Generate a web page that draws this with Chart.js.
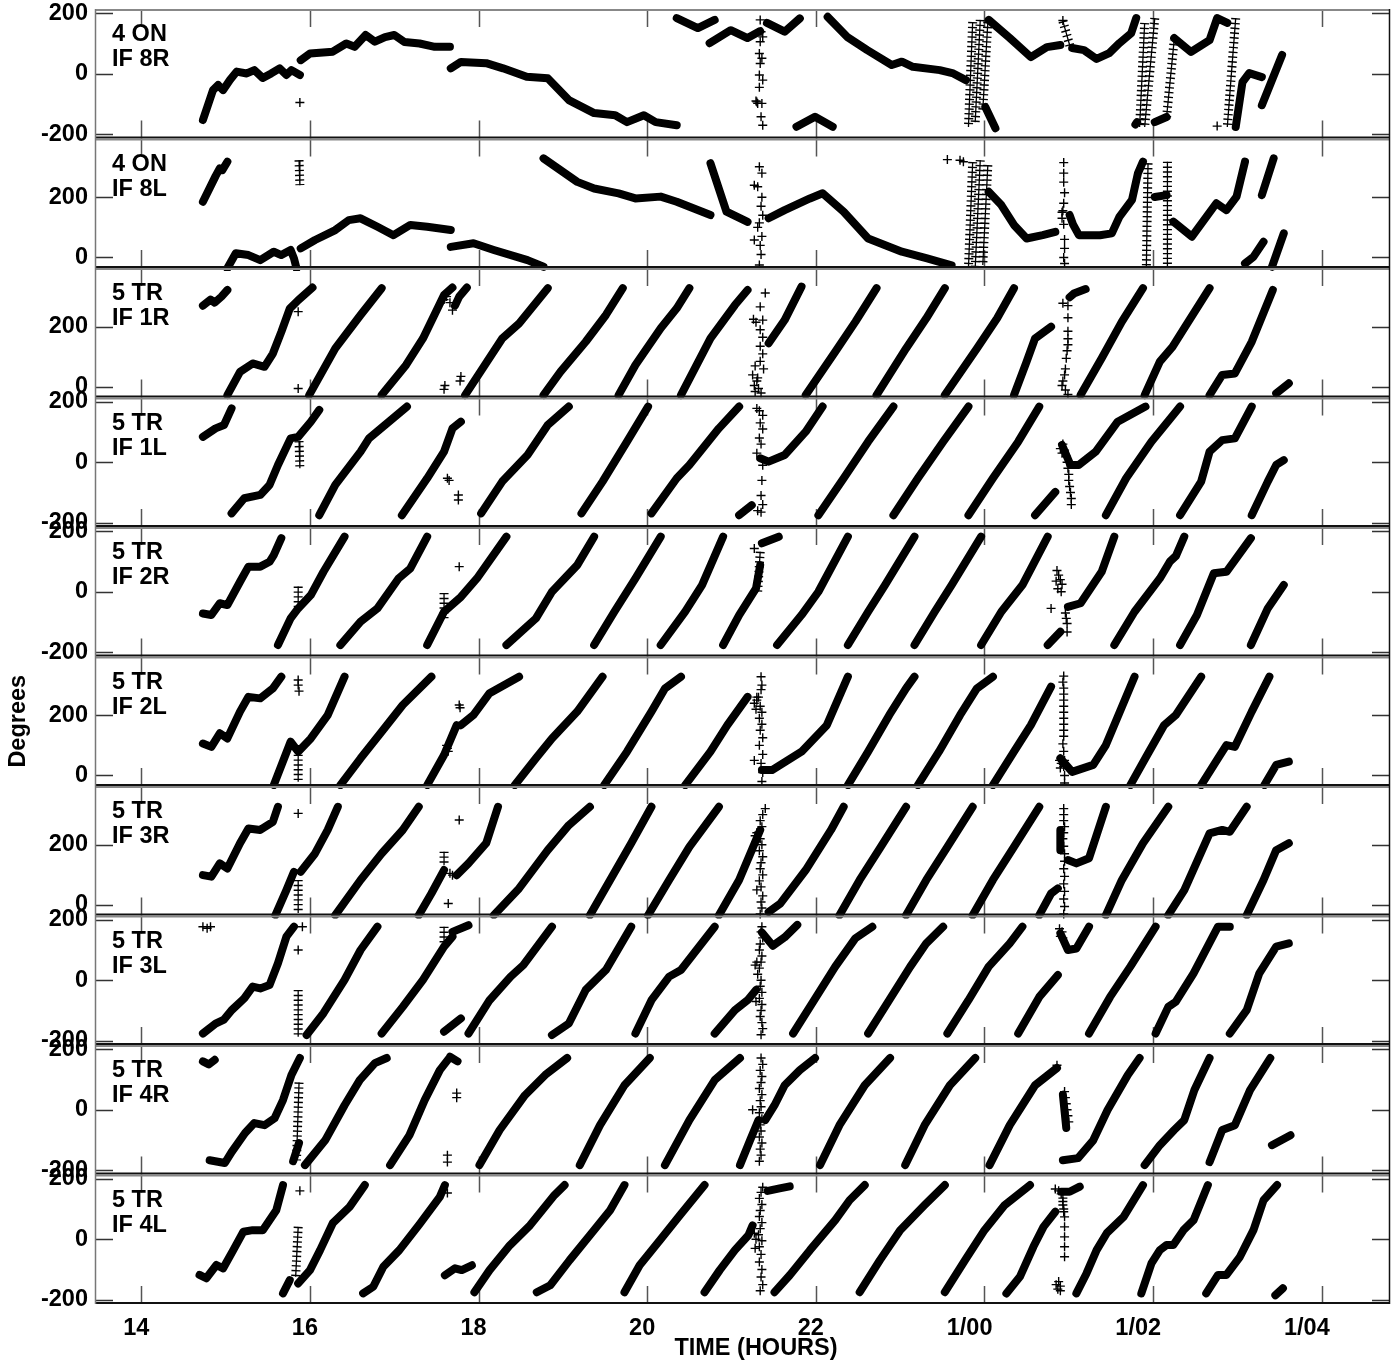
<!DOCTYPE html>
<html lang="en">
<head>
<meta charset="UTF-8" />
<title>Phase vs time</title>
<script src="https://cdn.jsdelivr.net/npm/chart.js"></script>
<style>
  html, body { margin: 0; padding: 0; background: #fff; }
  #phaseChart { display: block; }
</style>
</head>
<body>
<canvas id="phaseChart" width="1399" height="1361"></canvas>
<script>
// ---- values: [time in hours, phase in degrees] ----
// thick traces (many overlapping + marks), each inner list is one unbroken run
const lines8R = [
  [[14.73,-153],[14.85,-54],[14.91,-37],[14.97,-54],[15.05,-21],[15.13,7],[15.25,1],[15.34,12],[15.44,-14],[15.54,1],[15.64,18],[15.72,-4],[15.78,12],[15.88,-4]],
  [[15.89,45],[16.0,67],[16.27,73],[16.43,100],[16.53,89],[16.66,128],[16.77,106],[16.89,121],[17.0,128],[17.12,105],[17.30,100],[17.48,89],[17.66,89]],
  [[17.67,18],[17.79,39],[18.09,35],[18.29,18],[18.57,-10],[18.82,-15],[19.07,-87],[19.37,-130],[19.62,-137],[19.76,-160],[19.96,-137],[20.10,-160],[20.35,-170]],
  [[20.35,184],[20.60,151],[20.80,178]],
  [[20.74,101],[20.99,144],[21.19,118],[21.34,141]],
  [[21.42,168],[21.63,139],[21.81,183]],
  [[21.77,-175],[21.99,-142],[22.20,-175]],
  [[22.14,188],[22.37,122],[22.61,78],[22.90,29],[23.02,40],[23.15,23],[23.47,12],[23.63,1],[23.78,-21]],
  [[24.01,-110],[24.13,-180]],
  [[24.05,178],[24.30,118],[24.55,55],[24.74,88],[24.90,95]],
  [[25.04,85],[25.18,78],[25.33,49],[25.48,68],[25.60,101],[25.74,134],[25.80,184]],
  [[25.79,-168],[25.81,-160]],
  [[26.02,-160],[26.16,-143]],
  [[26.25,118],[26.45,72],[26.67,111],[26.76,184],[26.88,168]],
  [[26.98,-176],[27.06,-28],[27.14,2],[27.29,-11]],
  [[27.29,-104],[27.53,62]]
];
const lines8L = [
  [[14.73,185],[14.88,270],[14.93,296],[14.96,290],[15.02,318]],
  [[15.02,-36],[15.12,14],[15.27,8],[15.41,-9],[15.57,19],[15.66,8],[15.77,25],[15.81,-3],[15.84,-36]],
  [[15.89,30],[16.06,58],[16.30,91],[16.46,124],[16.60,130],[16.80,102],[16.99,74],[17.19,108],[17.39,102],[17.67,91]],
  [[17.67,35],[17.94,47],[18.18,25],[18.58,-9],[18.77,-31]],
  [[18.77,329],[19.17,251],[19.37,229],[19.66,213],[19.86,196],[20.16,202],[20.35,185],[20.75,141]],
  [[20.75,313],[20.94,152],[21.19,118]],
  [[21.44,130],[21.63,157],[21.93,196],[22.08,213],[22.33,152],[22.62,63],[23.02,19],[23.32,-3],[23.61,-26]],
  [[24.05,218],[24.20,174],[24.35,108],[24.50,63],[24.69,74],[24.84,85]],
  [[25.01,141],[25.05,110],[25.12,74],[25.37,74],[25.51,80],[25.60,135],[25.75,191],[25.82,279],[25.88,318]],
  [[26.02,201],[26.16,207]],
  [[26.24,119],[26.46,69],[26.75,180],[26.87,157],[26.99,202],[27.09,318]],
  [[27.09,-20],[27.19,2],[27.31,52]],
  [[27.29,207],[27.43,329]],
  [[27.41,-31],[27.55,80]]
];
const lines1R = [
  [[14.73,270],[14.82,290],[14.87,280],[14.95,300],[15.02,322]],
  [[15.02,-27],[15.17,50],[15.32,78],[15.46,67],[15.56,111],[15.66,183],[15.76,260],[15.86,288],[16.03,330]],
  [[15.99,-27],[16.30,128],[16.60,239],[16.85,328]],
  [[16.85,-27],[17.14,73],[17.34,161],[17.59,305],[17.69,330]],
  [[17.72,270],[17.77,300],[17.86,330]],
  [[17.84,-27],[18.28,161],[18.48,211],[18.82,328]],
  [[18.77,-27],[18.97,50],[19.27,150],[19.51,239],[19.71,328]],
  [[19.66,-27],[19.86,73],[20.16,195],[20.35,261],[20.50,328]],
  [[20.40,-27],[20.75,161],[21.04,272],[21.19,322]],
  [[21.44,145],[21.63,222],[21.83,333]],
  [[21.88,-27],[22.23,117],[22.47,217],[22.72,328]],
  [[22.72,-27],[23.07,128],[23.31,228],[23.53,328]],
  [[23.53,-27],[23.91,128],[24.15,228],[24.35,328]],
  [[24.35,-27],[24.50,84],[24.60,161],[24.79,200]],
  [[25.01,298],[25.06,310],[25.20,325]],
  [[25.14,-27],[25.39,95],[25.63,217],[25.88,328]],
  [[25.90,-27],[26.08,84],[26.23,133],[26.37,195],[26.67,328]],
  [[26.67,-27],[26.82,40],[26.97,45],[27.17,150],[27.42,322]],
  [[27.46,-21],[27.61,12]]
];
const lines1L = [
  [[14.73,84],[14.88,112],[14.98,123],[15.07,178]],
  [[15.07,-169],[15.22,-119],[15.41,-108],[15.52,-75],[15.62,-9],[15.77,79],[15.86,84],[16.01,134],[16.11,173]],
  [[16.11,-175],[16.30,-75],[16.60,35],[16.70,79],[17.15,184]],
  [[17.09,-175],[17.39,-53],[17.59,35],[17.69,112],[17.79,134]],
  [[18.03,-169],[18.28,-64],[18.58,24],[18.82,123],[19.07,184]],
  [[19.22,-169],[19.47,-64],[19.76,68],[20.01,184]],
  [[20.05,-169],[20.35,-53],[20.50,-9],[20.85,112],[21.09,184]],
  [[21.09,-175],[21.24,-142]],
  [[21.34,13],[21.44,2],[21.63,24],[21.88,101],[22.08,184]],
  [[22.03,-175],[22.33,-53],[22.62,68],[22.92,184]],
  [[22.92,-175],[23.21,-53],[23.51,68],[23.81,184]],
  [[23.81,-175],[24.10,-53],[24.40,68],[24.65,184]],
  [[24.60,-175],[24.84,-98]],
  [[24.92,57],[25.02,-9],[25.12,-9],[25.32,35],[25.58,134],[25.91,184]],
  [[25.44,-175],[25.68,-53],[25.98,68],[26.27,167],[26.32,184]],
  [[26.32,-175],[26.57,-64],[26.67,35],[26.82,73],[26.97,79],[27.17,184]],
  [[27.17,-175],[27.36,-64],[27.46,-9],[27.55,7]]
];
const lines2R = [
  [[14.73,-72],[14.83,-77],[14.93,-38],[15.02,-44],[15.17,33],[15.27,83],[15.41,83],[15.52,99],[15.57,121],[15.66,177]],
  [[15.62,-176],[15.77,-88],[15.86,-55],[16.01,-11],[16.16,66],[16.41,182]],
  [[16.36,-176],[16.60,-99],[16.80,-55],[17.05,44],[17.19,77],[17.39,182]],
  [[17.39,-176],[17.59,-66],[17.79,-17],[17.98,44],[18.33,182]],
  [[18.33,-176],[18.68,-88],[18.87,0],[19.17,88],[19.37,182]],
  [[19.37,-176],[19.61,-66],[19.86,44],[20.16,182]],
  [[20.16,-176],[20.45,-66],[20.65,22],[20.90,182]],
  [[20.90,-176],[21.09,-77],[21.29,11],[21.34,88]],
  [[21.36,160],[21.56,182]],
  [[21.54,-176],[21.83,-77],[22.03,0],[22.38,182]],
  [[22.38,-176],[22.62,-66],[22.82,22],[23.17,182]],
  [[23.17,-176],[23.41,-66],[23.61,22],[23.96,182]],
  [[23.96,-176],[24.20,-66],[24.45,22],[24.75,182]],
  [[24.75,-176],[24.90,-132]],
  [[24.99,-50],[25.14,-38],[25.39,66],[25.54,182]],
  [[25.54,-176],[25.78,-66],[26.08,44],[26.20,100],[26.27,118],[26.37,182]],
  [[26.32,-176],[26.52,-77],[26.72,61],[26.87,66],[27.16,177]],
  [[27.16,-176],[27.36,-55],[27.55,22]]
];
const lines2L = [
  [[14.73,106],[14.83,95],[14.93,140],[15.02,123],[15.17,212],[15.27,261],[15.41,256],[15.56,289],[15.66,328]],
  [[15.57,-32],[15.77,112],[15.86,79],[16.01,123],[16.21,200],[16.41,328]],
  [[16.36,-32],[16.60,57],[16.85,145],[17.10,234],[17.44,328]],
  [[17.39,-32],[17.59,68],[17.74,167]],
  [[17.79,167],[17.94,201],[18.13,273],[18.48,328]],
  [[18.43,-32],[18.68,57],[18.87,123],[19.17,212],[19.47,328]],
  [[19.49,-32],[19.76,79],[20.05,212],[20.21,289],[20.40,328]],
  [[20.45,-32],[20.75,79],[20.95,167],[21.19,261]],
  [[21.36,18],[21.48,18],[21.83,79],[22.13,167],[22.38,328]],
  [[22.38,-32],[22.62,79],[22.87,200],[23.07,289],[23.17,328]],
  [[23.21,-32],[23.46,79],[23.71,200],[23.91,289],[24.10,328]],
  [[24.10,-32],[24.35,79],[24.55,167],[24.79,295]],
  [[24.90,57],[25.04,12],[25.29,35],[25.44,101],[25.78,328]],
  [[25.73,-32],[25.93,68],[26.13,167],[26.27,201],[26.57,328]],
  [[26.57,-32],[26.77,57],[26.87,101],[26.97,95],[27.17,212],[27.38,328]],
  [[27.32,-32],[27.46,35],[27.61,46]]
];
const lines3R = [
  [[14.73,99],[14.83,94],[14.93,138],[15.02,121],[15.17,205],[15.27,254],[15.41,249],[15.56,276],[15.62,326]],
  [[15.59,-34],[15.72,49],[15.81,110]],
  [[15.89,110],[16.06,171],[16.21,249],[16.33,326]],
  [[16.30,-34],[16.60,83],[16.85,171],[17.10,249],[17.29,326]],
  [[17.29,-34],[17.44,38],[17.59,116]],
  [[17.74,99],[17.88,138],[18.09,205],[18.23,326]],
  [[18.18,-34],[18.48,55],[18.82,182],[19.07,265],[19.32,326]],
  [[19.32,-34],[19.56,83],[19.81,205],[20.05,326]],
  [[20.01,-34],[20.26,83],[20.50,193],[20.85,326]],
  [[20.85,-34],[21.09,83],[21.24,182],[21.34,249]],
  [[21.44,-23],[21.58,5],[21.88,116],[22.18,249],[22.33,326]],
  [[22.28,-34],[22.52,83],[22.77,193],[23.07,326]],
  [[23.07,-34],[23.31,83],[23.56,193],[23.86,326]],
  [[23.86,-34],[24.10,83],[24.35,193],[24.65,326]],
  [[24.65,-34],[24.79,38],[24.87,55]],
  [[24.90,249],[24.90,182]],
  [[24.99,149],[25.09,138],[25.24,155],[25.44,326]],
  [[25.44,-34],[25.63,83],[25.88,205],[26.18,326]],
  [[26.18,-34],[26.37,49],[26.67,238],[26.82,249],[26.91,243],[27.11,326]],
  [[27.11,-34],[27.31,83],[27.46,182],[27.61,205]]
];
const lines3L = [
  [[14.73,-176],[14.88,-143],[14.98,-130],[15.07,-99],[15.22,-60],[15.32,-21],[15.41,-27],[15.52,-16],[15.62,56],[15.72,144],[15.81,177]],
  [[15.96,-181],[16.16,-109],[16.41,1],[16.60,100],[16.80,177]],
  [[16.85,-176],[17.10,-88],[17.34,1],[17.59,111],[17.69,144]],
  [[17.69,160],[17.88,182]],
  [[17.59,-170],[17.79,-126]],
  [[17.88,-176],[18.13,-66],[18.38,12],[18.53,50],[18.87,177]],
  [[18.87,-181],[19.07,-143],[19.27,-32],[19.51,34],[19.81,177]],
  [[19.86,-176],[20.05,-66],[20.26,12],[20.40,34],[20.80,177]],
  [[20.80,-176],[21.04,-99],[21.19,-66],[21.29,-32]],
  [[21.36,158],[21.49,114],[21.63,142],[21.78,183]],
  [[21.73,-176],[21.98,-66],[22.23,45],[22.47,139],[22.67,177]],
  [[22.62,-176],[22.87,-66],[23.12,45],[23.31,122],[23.51,177]],
  [[23.56,-176],[23.81,-66],[24.05,45],[24.30,122],[24.45,177]],
  [[24.40,-176],[24.65,-55],[24.87,17]],
  [[24.90,155],[24.99,100],[25.09,105],[25.24,177]],
  [[25.24,-176],[25.49,-55],[25.73,45],[26.03,177]],
  [[26.03,-176],[26.18,-88],[26.27,-71],[26.48,23],[26.77,177],[26.91,177]],
  [[26.91,-176],[27.11,-99],[27.26,23],[27.46,111],[27.61,122]]
];
const lines4R = [
  [[14.73,160],[14.80,150],[14.87,165]],
  [[14.81,-167],[14.99,-176],[15.07,-140],[15.23,-77],[15.34,-44],[15.46,-51],[15.58,-28],[15.68,32],[15.78,115],[15.88,171]],
  [[15.80,-170],[15.87,-110]],
  [[15.94,-183],[16.18,-101],[16.41,15],[16.59,98],[16.77,154],[16.91,171]],
  [[16.95,-183],[17.18,-84],[17.36,32],[17.54,131],[17.66,174]],
  [[17.66,175],[17.75,160]],
  [[18.01,-183],[18.25,-67],[18.55,48],[18.79,115],[19.05,171]],
  [[19.20,-183],[19.44,-51],[19.73,81],[20.03,171]],
  [[20.21,-183],[20.50,-34],[20.80,98],[21.10,171]],
  [[21.10,-183],[21.22,-101],[21.32,-34]],
  [[21.40,-34],[21.51,15],[21.63,81],[21.81,131],[21.99,171]],
  [[22.05,-183],[22.28,-51],[22.58,81],[22.88,171]],
  [[23.06,-183],[23.29,-51],[23.59,81],[23.89,171]],
  [[24.06,-183],[24.30,-51],[24.60,81],[24.86,138]],
  [[24.93,50],[24.97,-60]],
  [[24.93,-167],[25.11,-160],[25.29,-101],[25.46,-1],[25.70,115],[25.84,171]],
  [[25.90,-183],[26.08,-117],[26.25,-67],[26.37,-34],[26.49,65],[26.67,171]],
  [[26.67,-173],[26.82,-67],[26.97,-51],[27.15,65],[27.39,171]],
  [[27.41,-117],[27.63,-84]]
];
const lines4L = [
  [[14.69,-118],[14.77,-129],[14.89,-85],[14.97,-96],[15.09,-36],[15.21,25],[15.32,30],[15.44,30],[15.52,63],[15.60,96],[15.68,179]],
  [[15.68,-179],[15.76,-135]],
  [[15.86,-146],[16.0,-102],[16.12,-36],[16.27,53],[16.47,107],[16.65,179]],
  [[16.63,-179],[16.75,-157],[16.87,-91],[17.06,-36],[17.30,50],[17.54,140],[17.60,179]],
  [[17.60,-119],[17.72,-96],[17.80,-102],[17.92,-86]],
  [[17.95,-175],[18.13,-102],[18.37,-20],[18.61,46],[18.90,146],[19.02,179]],
  [[18.69,-175],[18.85,-152],[19.08,-69],[19.32,13],[19.56,96],[19.73,179]],
  [[19.73,-175],[19.91,-86],[20.15,-3],[20.39,80],[20.68,179]],
  [[20.68,-175],[20.86,-102],[21.04,-36],[21.20,13],[21.25,46]],
  [[21.43,160],[21.57,168],[21.69,175]],
  [[21.51,-175],[21.69,-119],[21.93,-36],[22.23,63],[22.40,129],[22.58,179]],
  [[22.52,-175],[22.76,-69],[23.0,30],[23.29,113],[23.53,179]],
  [[23.53,-175],[23.77,-69],[24.0,30],[24.24,113],[24.54,179]],
  [[24.26,-179],[24.42,-124],[24.58,-25],[24.70,41],[24.84,91]],
  [[24.91,157],[25.01,157],[25.13,174]],
  [[25.09,-179],[25.21,-113],[25.33,-36],[25.45,20],[25.65,74],[25.88,179]],
  [[25.86,-179],[25.98,-80],[26.08,-36],[26.16,-19],[26.24,-19],[26.36,30],[26.48,63],[26.65,179]],
  [[26.63,-179],[26.77,-118],[26.87,-118],[27.03,-58],[27.19,30],[27.31,129],[27.47,179]],
  [[27.45,-185],[27.54,-162]]
];

// dense columns of + marks (start and end of each column)
const ladders8R = [
  [[23.86,171],[23.81,-176]], [[23.95,178],[23.89,-160]], [[24.04,171],[23.98,-120]],
  [[24.93,174],[25.02,85]], [[25.90,168],[25.84,-176]], [[26.02,184],[25.90,-176]],
  [[26.16,-143],[26.25,111]], [[26.98,184],[26.88,-176]]
];
const ladders8L = [
  [[15.87,323],[15.88,240]], [[23.86,317],[23.81,-35]], [[23.95,323],[23.89,-35]],
  [[24.04,307],[23.98,-25]], [[25.94,313],[25.92,-32]], [[26.17,318],[26.17,-32]]
];
const ladders1R = [];
const ladders1L = [[[15.87,70],[15.88,-20]]];
const ladders2R = [[[15.86,17],[15.86,-55]], [[17.59,-4],[17.59,-88]], [[21.34,132],[21.31,0]]];
const ladders2L = [[[15.86,101],[15.86,-21]]];
const ladders3R = [[[15.86,83],[15.86,-27]], [[17.59,177],[17.59,132]]];
const ladders3L = [[[15.86,-32],[15.86,-187]], [[17.59,177],[17.59,122]]];
const ladders4R = [[[15.87,90],[15.84,-167]]];
const ladders4L = [[[15.86,41],[15.83,-124]]];

// isolated + marks
const crosses8R = [[15.88,-95],[21.34,178],[21.35,139],[21.37,122],[21.34,106],[21.33,67],[21.36,51],[21.34,34],[21.33,-4],[21.37,-21],[21.33,-45],[21.30,-93],[21.31,-98],[21.29,-90],[21.36,-98],[21.35,-142],[21.37,-170],[26.76,-173],[24.93,176]];
const crosses8L = [[21.33,301],[21.36,280],[21.27,240],[21.31,235],[21.36,200],[21.35,170],[21.37,140],[21.33,115],[21.31,100],[21.36,70],[21.27,58],[21.34,40],[21.35,10],[21.33,-25],[23.56,325],[23.71,323],[23.75,318],[24.94,315],[24.94,280],[24.94,250],[24.95,215],[24.94,180],[24.92,150],[24.93,155],[24.92,130],[24.94,110],[24.95,60],[24.95,30],[24.94,0],[24.95,-20]];
const crosses1R = [[15.86,-5],[15.86,250],[17.59,290],[17.62,300],[17.66,280],[17.69,255],[17.59,-8],[17.60,5],[17.78,20],[17.79,35],[21.40,312],[21.34,266],[21.37,222],[21.34,190],[21.37,165],[21.34,135],[21.37,110],[21.34,85],[21.38,60],[21.30,20],[21.27,5],[21.32,-5],[21.35,-20],[21.28,-15],[21.31,30],[21.26,225],[21.29,215],[21.28,70],[21.25,40],[24.93,278],[24.99,270],[24.99,230],[24.99,185],[24.99,160],[24.99,140],[24.98,120],[24.97,95],[24.96,60],[24.95,40],[24.93,20],[24.92,5],[24.96,-10],[24.99,-25]];
const crosses1L = [[17.63,-53],[17.65,-60],[17.76,-108],[17.76,-125],[21.30,178],[21.33,170],[21.37,155],[21.34,130],[21.37,110],[21.33,80],[21.35,60],[21.30,30],[21.37,-10],[21.36,-60],[21.35,-110],[21.37,-140],[21.35,-165],[21.31,-160],[24.93,60],[24.95,40],[24.97,20],[24.98,0],[24.99,-20],[25.00,-40],[25.00,-60],[25.01,-80],[25.02,-100],[25.03,-120],[25.03,-140],[24.90,45],[24.92,30]];
const crosses2R = [[17.77,83],[21.27,143],[24.86,70],[24.88,55],[24.90,40],[24.92,25],[24.87,10],[24.91,0],[24.79,-55],[24.96,-70],[24.97,-88],[24.98,-105],[24.98,-133],[24.85,35]];
const crosses2L = [[15.86,317],[15.86,300],[15.87,280],[17.77,234],[17.78,225],[17.62,100],[17.63,90],[17.64,80],[21.35,328],[21.36,300],[21.35,285],[21.32,260],[21.30,250],[21.34,230],[21.36,210],[21.33,190],[21.36,170],[21.34,150],[21.37,125],[21.33,100],[21.37,70],[21.35,40],[21.37,10],[21.36,-20],[21.27,50],[21.30,260],[21.27,240],[21.29,220],[24.94,330],[24.93,310],[24.94,290],[24.94,270],[24.94,250],[24.94,230],[24.94,210],[24.94,190],[24.94,170],[24.94,150],[24.94,130],[24.93,105],[24.94,80],[24.95,50],[24.94,30],[24.95,0],[24.95,-25],[24.89,50],[24.91,40],[24.90,25]];
const crosses3R = [[15.86,304],[17.64,5],[17.77,282],[17.69,99],[17.66,105],[21.40,320],[21.37,300],[21.34,280],[21.36,260],[21.30,240],[21.34,220],[21.36,200],[21.33,180],[21.37,160],[21.35,140],[21.34,120],[21.37,100],[21.33,80],[21.35,60],[21.30,50],[21.37,30],[21.35,10],[21.36,-10],[21.34,-30],[21.28,230],[21.29,210],[24.94,320],[24.94,300],[24.94,280],[24.95,260],[24.94,240],[24.93,220],[24.94,195],[24.95,170],[24.95,145],[24.94,120],[24.95,95],[24.94,70],[24.95,45],[24.94,20],[24.95,-5],[24.94,-30]];
const crosses3L = [[14.73,177],[14.78,172],[14.82,177],[15.86,100],[15.91,177],[21.36,177],[21.35,160],[21.37,140],[21.34,120],[21.33,100],[21.36,80],[21.35,60],[21.33,40],[21.31,20],[21.35,0],[21.34,-20],[21.36,-40],[21.33,-60],[21.36,-80],[21.35,-100],[21.34,-120],[21.36,-140],[21.37,-160],[21.35,-180],[21.28,50],[21.30,60],[21.29,-70],[24.89,170],[24.92,160],[24.90,145],[24.93,140]];
const crosses4R = [[17.74,55],[17.74,40],[17.63,-150],[17.63,-173],[21.35,171],[21.37,150],[21.34,130],[21.36,110],[21.35,90],[21.33,70],[21.36,50],[21.34,30],[21.35,10],[21.33,-10],[21.36,-30],[21.34,-50],[21.35,-70],[21.33,-90],[21.36,-110],[21.34,-130],[21.35,-150],[21.33,-170],[21.25,0],[24.86,147],[24.95,60],[24.96,40],[24.97,20],[24.98,0],[24.99,-20],[25.00,-40]];
const crosses4L = [[15.88,160],[17.63,153],[21.37,172],[21.35,155],[21.33,135],[21.36,115],[21.34,95],[21.33,75],[21.36,55],[21.34,35],[21.32,15],[21.36,-5],[21.33,-25],[21.35,-50],[21.33,-75],[21.36,-100],[21.35,-125],[21.37,-150],[21.34,-170],[21.27,20],[21.29,0],[21.28,-30],[24.84,166],[24.88,160],[24.91,150],[24.93,136],[24.93,125],[24.93,113],[24.94,100],[24.94,91],[24.95,74],[24.95,41],[24.95,8],[24.95,-25],[24.95,-58],[24.85,-150],[24.88,-140],[24.90,-170],[24.87,-165],[24.90,-155]];

// panel labels, top to bottom
const antennas = ['4 ON', '4 ON', '5 TR', '5 TR', '5 TR', '5 TR', '5 TR', '5 TR', '5 TR', '5 TR'];
const ifNames = ['IF 8R', 'IF 8L', 'IF 1R', 'IF 1L', 'IF 2R', 'IF 2L', 'IF 3R', 'IF 3L', 'IF 4R', 'IF 4L'];
const yMins = [-214, -35, -35, -214, -214, -35, -35, -214, -214, -214];
const yMaxs = [214, 395, 395, 214, 214, 395, 395, 214, 214, 214];
const wideTicks = [-200, 0, 200];
const phaseTicks = [0, 100, 200, 300];
const timeTicks = [14, 16, 18, 20, 22, 24, 26, 28];

const panelLines = [lines8R, lines8L, lines1R, lines1L, lines2R, lines2L, lines3R, lines3L, lines4R, lines4L];
const panelLadders = [ladders8R, ladders8L, ladders1R, ladders1L, ladders2R, ladders2L, ladders3R, ladders3L, ladders4R, ladders4L];
const panelCrosses = [crosses8R, crosses8L, crosses1R, crosses1L, crosses2R, crosses2L, crosses3R, crosses3L, crosses4R, crosses4L];

// ---- build chart ----
const FONT = '"Liberation Sans", Arial, Helvetica, sans-serif';
const FONT_SIZE = 23.5;
Chart.defaults.font.family = FONT;
Chart.defaults.font.weight = 'bold';
Chart.defaults.font.size = FONT_SIZE;
Chart.defaults.color = '#000';

// runs -> one point list, a null breaks the line between runs
function toPoints(runs) {
  const out = [];
  runs.forEach(run => {
    run.forEach(p => out.push({ x: p[0], y: p[1] }));
    out.push({ x: run[run.length - 1][0], y: null });
  });
  return out;
}

const panelIds = antennas.map((a, i) => 'p' + i);
const datasets = [];
panelIds.forEach((id, i) => {
  datasets.push({
    type: 'line', yAxisID: id, data: toPoints(panelLines[i]),
    borderColor: '#000', borderWidth: 8, borderCapStyle: 'round', borderJoinStyle: 'round',
    pointRadius: 0, spanGaps: false, tension: 0, clip: 3
  });
  if (panelLadders[i].length) {
    datasets.push({
      type: 'line', yAxisID: id, data: toPoints(panelLadders[i]),
      borderColor: '#000', borderWidth: 1.3, pointRadius: 0, spanGaps: false, clip: 3
    });
    datasets.push({
      type: 'line', yAxisID: id, data: toPoints(panelLadders[i]),
      borderColor: '#000', borderWidth: 9, borderDash: [1.4, 3.4], borderCapStyle: 'butt',
      pointRadius: 0, spanGaps: false, clip: 3
    });
  }
  datasets.push({
    type: 'scatter', yAxisID: id, data: panelCrosses[i].map(p => ({ x: p[0], y: p[1] })),
    pointStyle: 'cross', pointRadius: 4.5, pointBorderWidth: 1.4,
    pointBorderColor: '#000', pointBackgroundColor: '#000', clip: 5
  });
});

const scales = {
  x: {
    type: 'linear', position: 'bottom', min: 13.45, max: 28.81,
    afterBuildTicks: axis => { axis.ticks = timeTicks.map(v => ({ value: v })); },
    afterFit: axis => { axis.height = 57; axis.paddingLeft = 0; axis.paddingRight = 0; },
    ticks: {
      padding: 10, maxRotation: 0, align: 'end', labelOffset: 8,
      callback: v => v < 24 ? String(v) : '1/' + String(v - 24).padStart(2, '0')
    },
    grid: { display: false, drawTicks: false },
    border: { display: false },
    title: { display: false }
  }
};
// stacked left axes: the last one listed ends up on top, so list bottom panel first
for (let i = panelIds.length - 1; i >= 0; i--) {
  const wide = yMins[i] < -100;
  scales[panelIds[i]] = {
    type: 'linear', position: 'left', stack: 'panels', stackWeight: 1,
    min: yMins[i], max: yMaxs[i],
    afterBuildTicks: axis => { axis.ticks = (wide ? wideTicks : phaseTicks).map(v => ({ value: v })); },
    afterFit: axis => { axis.width = 95; axis.paddingTop = 0; axis.paddingBottom = 0; },
    ticks: { padding: 7 },
    grid: { display: false, drawTicks: false },
    border: { display: false },
    title: { display: i === 5, text: 'Degrees', padding: { top: 4, bottom: 0 } }
  };
}

// frame, inner tick marks, panel labels and the time axis title
const framePlugin = {
  id: 'panelFrame',
  beforeDatasetsDraw(chart) {
    const ctx = chart.ctx;
    const xs = chart.scales.x;
    const { left, right } = chart.chartArea;
    ctx.save();
    ctx.lineWidth = 1.5;
    panelIds.forEach((id, i) => {
      const ys = chart.scales[id];
      ctx.strokeStyle = '#333';
      ys.ticks.forEach(t => {
        const y = Math.round(ys.getPixelForValue(t.value)) + 0.5;
        ctx.beginPath();
        ctx.moveTo(left, y); ctx.lineTo(left + 18, y);
        ctx.moveTo(right - 18, y); ctx.lineTo(right, y);
        ctx.stroke();
      });
      ctx.strokeStyle = '#555';
      xs.ticks.forEach(t => {
        const x = Math.round(xs.getPixelForValue(t.value)) + 0.5;
        ctx.beginPath();
        ctx.moveTo(x, ys.top); ctx.lineTo(x, ys.top + 18);
        ctx.moveTo(x, ys.bottom - 18); ctx.lineTo(x, ys.bottom);
        ctx.stroke();
      });
      ctx.fillStyle = '#000';
      ctx.font = 'bold ' + FONT_SIZE + 'px ' + FONT;
      ctx.textAlign = 'left';
      ctx.textBaseline = 'alphabetic';
      ctx.fillText(antennas[i], left + 17, ys.top + 32);
      ctx.fillText(ifNames[i], left + 17, ys.top + 57);
    });
    ctx.restore();
  },
  afterDatasetsDraw(chart) {
    const ctx = chart.ctx;
    const { left, right, top, bottom } = chart.chartArea;
    ctx.save();
    panelIds.forEach(id => {
      const ys = chart.scales[id];
      ctx.lineWidth = 2;
      ctx.strokeStyle = '#888';
      ctx.beginPath(); ctx.moveTo(left, ys.top + 1); ctx.lineTo(right, ys.top + 1); ctx.stroke();
      ctx.strokeStyle = '#111';
      ctx.beginPath(); ctx.moveTo(left, ys.bottom - 1); ctx.lineTo(right, ys.bottom - 1); ctx.stroke();
    });
    ctx.lineWidth = 1.5;
    ctx.strokeStyle = '#777';
    ctx.beginPath(); ctx.moveTo(left + 0.5, top); ctx.lineTo(left + 0.5, bottom); ctx.stroke();
    ctx.strokeStyle = '#111';
    ctx.beginPath(); ctx.moveTo(right - 0.5, top); ctx.lineTo(right - 0.5, bottom); ctx.stroke();
    // axis title sits a little right of the plot centre in the original
    ctx.fillStyle = '#000';
    ctx.font = 'bold ' + FONT_SIZE + 'px ' + FONT;
    ctx.textAlign = 'center';
    ctx.textBaseline = 'alphabetic';
    ctx.fillText('TIME (HOURS)', 756, 1355);
    ctx.restore();
  }
};

new Chart(document.getElementById('phaseChart'), {
  type: 'scatter',
  data: { datasets },
  options: {
    responsive: false,
    animation: false,
    devicePixelRatio: 1,
    layout: { padding: { top: 9, right: 9, left: 0, bottom: 0 } },
    scales,
    plugins: { legend: { display: false }, tooltip: { enabled: false } }
  },
  plugins: [framePlugin]
});
</script>
</body>
</html>
